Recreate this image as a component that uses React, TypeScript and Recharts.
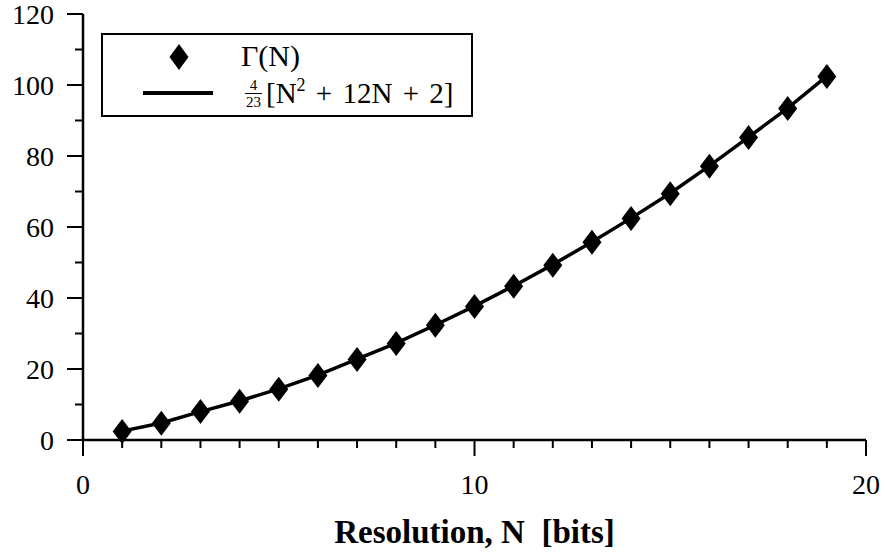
import { ComposedChart, Line, Scatter, XAxis, YAxis, Legend } from "recharts";

const resolutionBits = [1, 2, 3, 4, 5, 6, 7, 8, 9, 10, 11, 12, 13, 14, 15, 16, 17, 18, 19];
const gammaValues = [2.4, 4.7, 8.0, 10.9, 14.3, 18.2, 22.7, 27.2, 32.3, 37.6, 43.3, 49.2, 55.7, 62.4, 69.4, 77.1, 85.2, 93.4, 102.4];
const fitValues = [2.5, 4.8, 8.0, 11.0, 14.4, 18.3, 22.8, 27.3, 32.4, 37.7, 43.4, 49.4, 55.8, 62.5, 69.5, 77.2, 85.3, 93.5, 102.5];

const xTicks = [0, 1, 2, 3, 4, 5, 6, 7, 8, 9, 10, 11, 12, 13, 14, 15, 16, 17, 18, 19, 20];
const yTicks = [0, 10, 20, 30, 40, 50, 60, 70, 80, 90, 100, 110, 120];

const FONT = "Liberation Serif, DejaVu Serif, serif";

const data = resolutionBits.map((n, i) => ({ n, gamma: gammaValues[i], fit: fitValues[i] }));

function Diamond(props: any) {
  const { cx, cy } = props;
  if (cx == null || cy == null) return null;
  const w = 9.5;
  const h = 12.5;
  return <path d={`M${cx},${cy - h}L${cx + w},${cy}L${cx},${cy + h}L${cx - w},${cy}Z`} fill="#000" />;
}

function XTick(props: any) {
  const { x, y, payload } = props;
  const major = payload.value % 10 === 0;
  return (
    <g>
      <line x1={x} x2={x} y1={y} y2={y + (major ? 16 : 8)} stroke="#000" strokeWidth={2} />
      {major && (
        <text x={x} y={y + 54} textAnchor="middle" fontFamily={FONT} fontSize={28} fill="#000">
          {payload.value}
        </text>
      )}
    </g>
  );
}

function YTick(props: any) {
  const { x, y, payload } = props;
  const major = payload.value % 20 === 0;
  return (
    <g>
      <line x1={x} x2={x - (major ? 16 : 8)} y1={y} y2={y} stroke="#000" strokeWidth={2} />
      {major && (
        <text x={x - 29} y={y + 10} textAnchor="end" fontFamily={FONT} fontSize={28} fill="#000">
          {payload.value}
        </text>
      )}
    </g>
  );
}

function XTitle(props: any) {
  const { viewBox } = props;
  const cx = viewBox.x + viewBox.width / 2;
  return (
    <text x={cx} y={viewBox.y + 103} textAnchor="middle" fontFamily={FONT} fontWeight="bold" fontSize={33} fill="#000">
      Resolution, N{"\u00a0\u00a0"}[bits]
    </text>
  );
}

function LegendBox() {
  return (
    <div
      style={{
        width: 372,
        height: 84,
        border: "2px solid #000",
        background: "#fff",
        fontFamily: FONT,
        color: "#000",
        position: "relative",
        boxSizing: "border-box",
      }}
    >
      <svg width={30} height={30} style={{ position: "absolute", left: 61, top: 7 }}>
        <path d="M15,2L24.5,15L15,28L5.5,15Z" fill="#000" />
      </svg>
      <div style={{ position: "absolute", left: 138, top: 4, fontSize: 30, lineHeight: "34px" }}>Γ(N)</div>
      <div style={{ position: "absolute", left: 40, top: 56, width: 70, height: 4, background: "#000" }} />
      <div style={{ position: "absolute", left: 142, top: 40, display: "flex", alignItems: "center", whiteSpace: "pre" }}>
        <div style={{ display: "flex", flexDirection: "column", alignItems: "center", fontSize: 15, lineHeight: "16px", marginRight: 4 }}>
          <div>4</div>
          <div style={{ borderTop: "1.5px solid #000", padding: "0 1px" }}>23</div>
        </div>
        <div style={{ fontSize: 29, lineHeight: "36px", wordSpacing: 3 }}>
          [N<sup style={{ fontSize: 18, verticalAlign: "12px", lineHeight: "18px" }}>2</sup>{" + 12N + 2]"}
        </div>
      </div>
    </div>
  );
}

export default function App() {
  return (
    <div style={{ position: "absolute", left: 0, top: 0, width: 885, height: 556, background: "#fff" }}>
      <ComposedChart width={885} height={556} data={data} margin={{ top: 14, right: 19, bottom: 0, left: 23 }}>
        <XAxis
          type="number"
          dataKey="n"
          domain={[0, 20]}
          ticks={xTicks}
          interval={0}
          tickSize={0}
          tickMargin={0}
          height={116}
          axisLine={{ stroke: "#000", strokeWidth: 2.5 }}
          tickLine={false}
          tick={<XTick />}
          label={<XTitle />}
        />
        <YAxis
          type="number"
          domain={[0, 120]}
          ticks={yTicks}
          interval={0}
          tickSize={0}
          tickMargin={0}
          width={60}
          axisLine={{ stroke: "#000", strokeWidth: 2.5 }}
          tickLine={false}
          tick={<YTick />}
        />
        <Legend
          layout="vertical"
          align="center"
          verticalAlign="middle"
          wrapperStyle={{ position: "absolute", left: 101, top: 33, width: 372 }}
          content={() => <LegendBox />}
        />
        <Line
          name="fit"
          type="linear"
          dataKey="fit"
          stroke="#000"
          strokeWidth={3.5}
          dot={false}
          isAnimationActive={false}
        />
        <Scatter name="Γ(N)" dataKey="gamma" fill="#000" shape={<Diamond />} isAnimationActive={false} />
      </ComposedChart>
    </div>
  );
}
